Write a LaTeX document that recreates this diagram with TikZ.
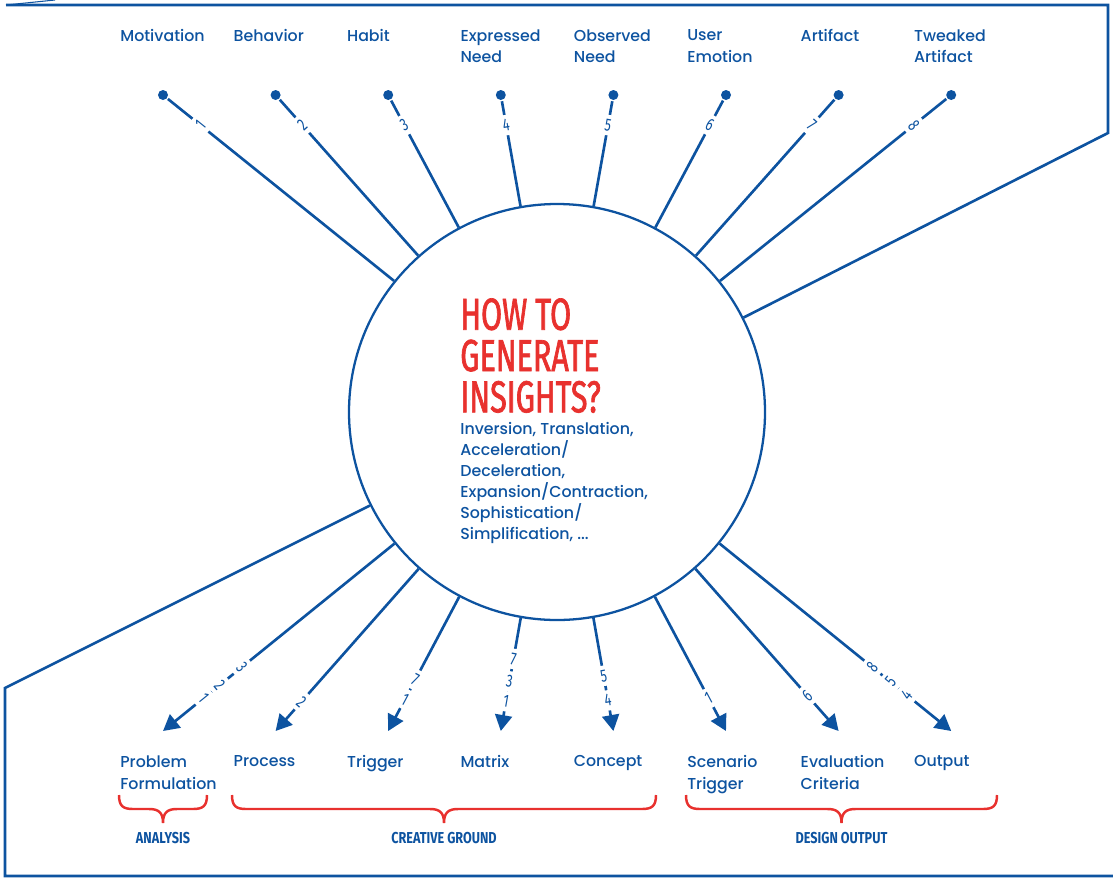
\documentclass[tikz,border=0pt]{standalone}
\usepackage{fontspec}
\setmainfont{Poppins Medium}
\newfontfamily\condfont{Fira Sans}[FakeStretch=0.68,FakeBold=1.5]
\newfontfamily\numfont{Fira Sans}[FakeStretch=0.72]
\newfontfamily\grpfont{Fira Sans}[FakeStretch=0.8]
\usetikzlibrary{
arrows.meta,
calc,
}
\definecolor{ink}{RGB}{13,83,160}
\definecolor{hot}{RGB}{232,49,46}
\tikzset{every picture/.style={line width=1.5pt}}
\tikzset{dot/.style = {shape=circle,fill=ink,inner sep=0pt,minimum size=2mm}}
\tikzset{lbl/.style = {anchor=north west,inner sep=0pt,align=left,text=ink,font=\fontsize{9}{12.5}\selectfont}}
\tikzset{num/.style = {fill=white,text=ink,inner xsep=1pt,inner ysep=2.4pt,font=\numfont\fontsize{10}{10}\selectfont}}
\tikzset{spoke/.style = {draw=ink}}
\tikzset{arr/.style = {draw=ink,-{Triangle[length=3.2mm,width=3.4mm]}}}
\tikzset{frame/.style = {draw=ink}}
\tikzset{grp/.style = {draw=hot,line width=1.4pt}}

\begin{document}
\begin{tikzpicture}[x=0.2mm,y=-0.2mm]
\useasboundingbox (0,0) rectangle (1113,877);
% hub
\node[circle,draw=ink,line width=1.3pt,minimum size=83.2mm,inner sep=0pt] (c) at (557,412) {};
\node[anchor=north west,inner sep=0pt,align=left,text=hot,font=\condfont\fontsize{25.5}{23.5}\selectfont] (ttl) at (459,297) {HOW TO\\GENERATE\\INSIGHTS?};
\node[lbl,font=\fontsize{9}{12}\selectfont] (body) at (459,421) {Inversion, Translation,\\Acceleration/\\Deceleration,\\Expansion/Contraction,\\Sophistication/\\Simplification, ...};
%
% inputs
\foreach \i/\txt in {1/Motivation,2/Behavior,3/Habit,4/Expressed\\Need,5/Observed\\Need,6/User\\Emotion,7/Artifact,8/Tweaked\\Artifact}{
  \pgfmathsetmacro\lx{119+(\i-1)*113.4}
  \pgfmathsetmacro\dx{163+(\i-1)*112.6}
  \pgfmathsetmacro\ang{atan2(317,\dx-557)-90}
  \node[lbl] (in\i) at (\lx,28) {\txt};
  \node[dot] (d\i) at (\dx,95) {};
  \draw[spoke] (d\i) -- (c);
  \path (d\i.center) -- (c.center) node[num,pos=.095,rotate=\ang] (n\i) {\i};
}
%
% outputs
\foreach \i/\txt/\nums in {1/Problem\\Formulation/{.80/3,.856/2,.897/1},
  2/Process/{.908/2},
  3/Trigger/{.839/7,.90/1},
  4/Matrix/{.774/7,.845/3,.907/1},
  5/Concept/{.827/5,.904/4},
  6/Scenario\\Trigger/{.897/1},
  7/Evaluation\\Criteria/{.889/6},
  8/Output/{.80/8,.846/5,.887/4}}{
  \pgfmathsetmacro\lx{119+(\i-1)*113.4}
  \pgfmathsetmacro\tx{163+(\i-1)*112.6}
  \pgfmathsetmacro\ang{atan2(318,557-\tx)-90}
  \coordinate (t\i) at (\tx,731);
  \node[lbl] (out\i) at (\lx,754) {\txt};
  \draw[arr] (c) -- (t\i);
  \foreach \p/\k in \nums {
    \path (c.center) -- (t\i) node[num,pos=\p,rotate=\ang] (m\i-\k) {\k};
  }
}
%
% outline
\coordinate (fr1) at (1108,133); \coordinate (fr2) at (1108,5);
\coordinate (fr3) at (6,5); \coordinate (fr4) at (55,0);
\coordinate (fl1) at (5,688); \coordinate (fl2) at (5,876); \coordinate (fl3) at (1113,876);
\draw[frame] (c) -- (fr1) -- (fr2) -- (fr3);
\draw[frame,line width=.6pt] (fr3) -- (fr4);
\draw[frame] (c) -- (fl1) -- (fl2) -- (fl3);
%
% groups
\foreach \a/\b/\g/\txt in {119/207/a/ANALYSIS,232/656/b/CREATIVE GROUND,686/997/c/DESIGN OUTPUT}{
  \pgfmathsetmacro\m{(\a+\b)/2}
  \draw[grp] (\a,795) .. controls (\a,806) and (\a+4,809) .. (\a+14,809) -- (\m-14,809)
    .. controls (\m-5,809) and (\m,812) .. (\m,823) .. controls (\m,812) and (\m+5,809) .. (\m+14,809)
    -- (\b-14,809) .. controls (\b-4,809) and (\b,806) .. (\b,795);
  \node[text=ink,font=\grpfont\bfseries\fontsize{9}{9}\selectfont] (g\g) at (\m,838) {\txt};
}
\end{tikzpicture}
\end{document}
